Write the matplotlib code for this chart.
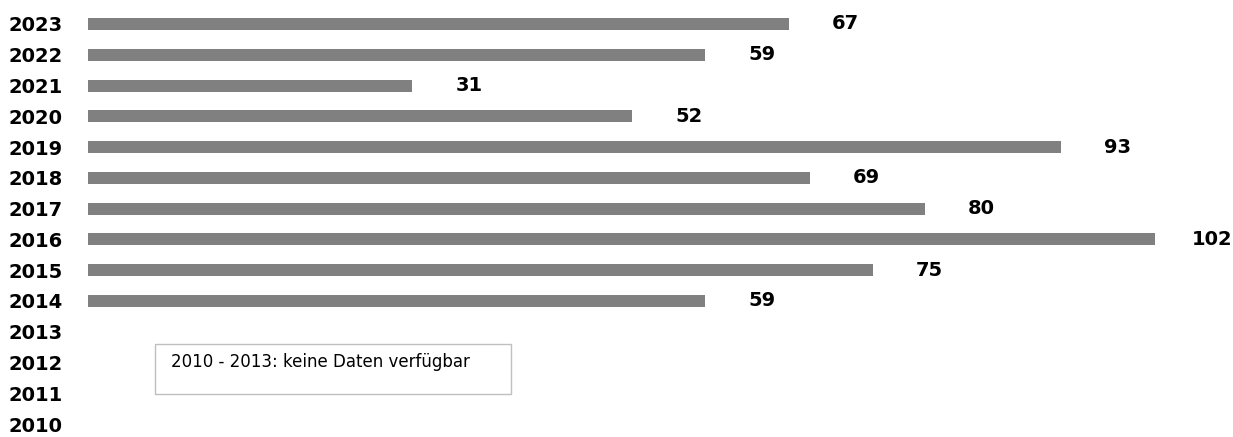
import matplotlib.pyplot as plt
from matplotlib.patches import Rectangle

# Daten
years = [2010, 2011, 2012, 2013, 2014, 2015, 2016, 2017, 2018, 2019, 2020, 2021, 2022, 2023]
bar_years = [2014, 2015, 2016, 2017, 2018, 2019, 2020, 2021, 2022, 2023]
values = [59, 75, 102, 80, 69, 93, 52, 31, 59, 67]
note = "2010 - 2013: keine Daten verfügbar"

plt.rcParams['font.family'] = ['DejaVu Sans']

fig = plt.figure(figsize=(12.33, 4.37), dpi=100, facecolor='white')
ax = fig.add_axes([88 / 1233, 0, (1233 - 88) / 1233, 1])

ax.barh(bar_years, values, height=0.39, color='#808080')

for y, v in zip(bar_years, values):
    ax.annotate(str(v), (v, y), xytext=(41, 0), textcoords='offset points',
                ha='center', va='center', fontsize=14, fontweight='bold', color='black')

ax.set_xlim(0, (1233 - 88) / 10.46)
ax.set_ylim(2010 - 13 / 30.77, 2023 + 24 / 30.77)
ax.set_yticks(years)
ax.set_yticklabels([str(y) for y in years], fontsize=14, fontweight='bold', color='black')
ax.tick_params(axis='y', length=0, pad=18.5)
ax.set_xticks([])
for s in ax.spines.values():
    s.set_visible(False)

# Hinweisbox
ax.add_patch(Rectangle((6.4, 2010 + (424 - 394) / 30.77), 34.0, 50 / 30.77,
                       facecolor='white', edgecolor='#bfbfbf', linewidth=1, clip_on=False))
ax.text(7.9, 2010 + (424 - 362) / 30.77, note, ha='left', va='center', fontsize=12, color='black')

plt.savefig('out.png', dpi=100)
